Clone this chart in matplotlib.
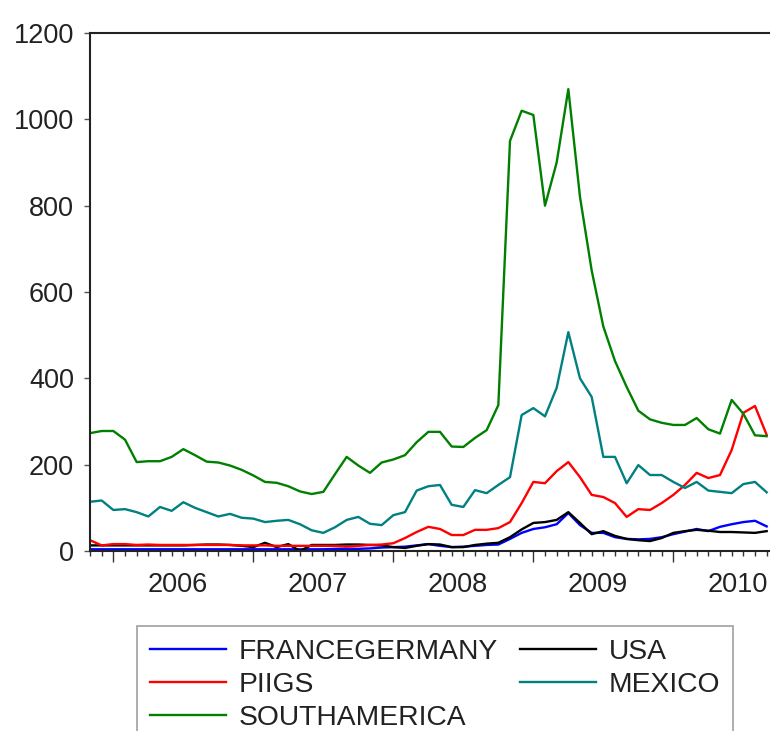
import matplotlib
matplotlib.use("Agg")
import matplotlib.pyplot as plt
from matplotlib.ticker import FixedLocator, NullFormatter
import numpy as np
import pandas as pd

plt.rcParams['font.family'] = ['Liberation Sans', 'DejaVu Sans']

start_month = "2005-11"
n_months = 59

francegermany = [4, 4, 4, 4, 4, 4, 4, 4, 4, 4, 4, 4, 4, 4, 4, 4, 4, 4, 4, 4,
                 4, 5, 5, 5, 6, 8, 9, 10, 13, 16, 12, 9, 10, 12, 14, 15, 28, 42, 51, 55,
                 62, 88, 60, 42, 42, 32, 28, 27, 28, 32, 39, 45, 51, 46, 56, 62, 67, 70, 57]
usa = [13, 13, 13, 13, 13, 13, 13, 13, 13, 14, 15, 15, 14, 12, 9, 19, 9, 16, 0, 14,
       14, 14, 15, 15, 14, 13, 9, 7, 12, 16, 15, 9, 9, 14, 17, 19, 32, 50, 65, 67,
       72, 90, 65, 39, 46, 35, 28, 25, 23, 30, 42, 46, 49, 47, 44, 44, 43, 42, 46]
piigs = [25, 13, 16, 16, 14, 15, 14, 14, 14, 14, 14, 14, 14, 13, 13, 13, 12, 12, 12, 12,
         12, 12, 10, 12, 14, 15, 18, 30, 44, 56, 51, 37, 37, 49, 49, 53, 67, 111, 160, 157,
         185, 206, 171, 130, 125, 111, 79, 97, 95, 111, 130, 153, 181, 169, 176, 234, 320, 336, 269]
mexico = [114, 117, 95, 97, 90, 80, 102, 93, 113, 100, 90, 80, 86, 77, 75, 67, 70, 72, 62, 48,
          42, 55, 72, 79, 63, 60, 83, 90, 140, 150, 153, 107, 102, 141, 134, 153, 171, 315, 331, 312,
          378, 507, 400, 357, 218, 218, 157, 199, 176, 176, 160, 146, 160, 140, 137, 134, 155, 160, 136]
southamerica = [273, 278, 278, 258, 206, 208, 208, 218, 236, 222, 207, 205, 198, 188, 175, 160, 158, 150, 138, 132,
                137, 178, 218, 198, 181, 205, 212, 222, 252, 276, 276, 242, 241, 262, 280, 338, 950, 1020, 1010, 800,
                900, 1070, 820, 650, 520, 440, 380, 325, 305, 297, 292, 292, 308, 282, 272, 350, 318, 268, 266]

series_names = ["FRANCEGERMANY", "USA", "PIIGS", "MEXICO", "SOUTHAMERICA"]
series_values = [francegermany, usa, piigs, mexico, southamerica]
series_colors = ["#0000ff", "#000000", "#ff0000", "#008080", "#008000"]

year_labels = ["2006", "2007", "2008", "2009", "2010"]
y_ticks = [0, 200, 400, 600, 800, 1000, 1200]

dates = pd.date_range(start_month, periods=n_months, freq="MS")
x = np.array([d.year + (d.month - 1) / 12 for d in dates])

W, H = 770, 731
fig = plt.figure(figsize=(W / 100, H / 100), dpi=100)
left_px, top_px, bottom_px = 90, 33, 551
x0 = x[0]
x1 = 2010.75
px_per_year = 140
right_px = left_px + (x1 - x0) * px_per_year
ax = fig.add_axes([left_px / W, 1 - bottom_px / H, (right_px - left_px) / W, (bottom_px - top_px) / H])

handles = {}
for name, vals, col in zip(series_names, series_values, series_colors):
    ln, = ax.plot(x, vals, color=col, lw=1.7, solid_joinstyle='round')
    handles[name] = ln

ax.set_xlim(x0, x1)
ax.set_ylim(0, 1200)
ax.set_yticks(y_ticks)
ax.set_yticklabels([str(v) for v in y_ticks], fontsize=19.5, color='#222222')

years = [int(y) for y in year_labels]
ax.xaxis.set_major_locator(FixedLocator(years))
ax.xaxis.set_major_formatter(NullFormatter())
minor = [m for m in np.arange(2005, 2012, 1 / 12)]
ax.xaxis.set_minor_locator(FixedLocator(minor))
ax.tick_params(axis='x', which='major', length=8, width=1.0, direction='out', color='#333333')
ax.tick_params(axis='x', which='minor', length=3.6, width=1.0, direction='out', color='#333333')
ax.tick_params(axis='y', which='major', length=4.5, width=1.0, direction='out', color='#555555', pad=7)
for yl in year_labels:
    ax.text(int(yl) + 0.46, -0.041, yl, transform=ax.get_xaxis_transform(),
            ha='center', va='top', fontsize=19.5, color='#222222')

for s in ['left', 'top', 'bottom']:
    ax.spines[s].set_linewidth(1.5)
    ax.spines[s].set_color('#222222')
ax.spines['right'].set_visible(False)

order = ["FRANCEGERMANY", "PIIGS", "SOUTHAMERICA", "USA", "MEXICO"]
leg = fig.legend([handles[n] for n in order], order, ncol=2, loc='upper left',
                 bbox_to_anchor=(137 / W, 1 - 626 / H), borderaxespad=0,
                 fontsize=20.3, frameon=True, fancybox=False, edgecolor='#888888',
                 handlelength=2.7, handletextpad=0.45, columnspacing=0.8,
                 labelspacing=0.25, borderpad=0.45)
for t in leg.get_texts():
    t.set_color('#222222')
leg.get_frame().set_linewidth(1.2)

fig.savefig("out.png", dpi=100)
